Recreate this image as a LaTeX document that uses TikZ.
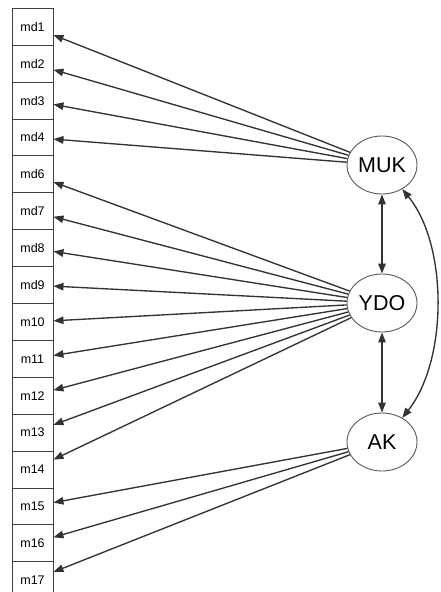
\documentclass[tikz,border=0pt]{standalone}
\usepackage{fontspec}
\setmainfont{Liberation Sans}
\usetikzlibrary{shapes.geometric,arrows.meta}

\tikzset{
    item/.style={draw=black!75, line width=0.9pt, minimum width=41pt, minimum height=36.9pt, inner sep=0pt, font=\fontsize{12.5}{14}\selectfont},
    factor/.style={ellipse, draw=black!65, line width=0.9pt, minimum width=70pt, minimum height=58pt, inner sep=0pt, font=\fontsize{21.5}{24}\selectfont},
    load/.style={draw=black!80, line width=1.35pt, -{Triangle[length=10pt,width=7.5pt]}},
    cov/.style={load, {Triangle[length=10pt,width=7.5pt]}-{Triangle[length=10pt,width=7.5pt]}},
}

\begin{document}
\begin{tikzpicture}[x=1pt,y=-1pt]
    \def\boxx{32.5}
    \def\boxtop{26.75}
    \def\boxstep{36.9}
    \def\latx{382}

    \path[use as bounding box, fill=white] (0,0) rectangle (440,592);

    % Draw the item boxes
    \foreach \name [count=\i from 0] in {md1,md2,md3,md4,md6,md7,md8,md9,m10,m11,m12,m13,m14,m15,m16,m17}
        \node[item] (\name) at (\boxx,\boxtop+\i*\boxstep) {\name};

    % Latent factors
    \node[factor] (muk) at (\latx,165) {MUK};
    \node[factor] (ydo) at (\latx,303) {YDO};
    \node[factor] (ak) at (\latx,442) {AK};

    % Loadings
    \foreach \name in {md1,md2,md3,md4}
        \draw[load] (muk) -- (\name);
    \foreach \name in {md6,md7,md8,md9,m10,m11,m12,m13,m14}
        \draw[load] (ydo) -- (\name);
    \foreach \name in {m15,m16,m17}
        \draw[load] (ak) -- (\name);

    % Covariances
    \draw[cov] (muk) -- (ydo);
    \draw[cov] (ydo) -- (ak);
    \draw[cov] (ak.50) .. controls (448,360) and (448,245) .. (muk.-50);
\end{tikzpicture}
\end{document}
